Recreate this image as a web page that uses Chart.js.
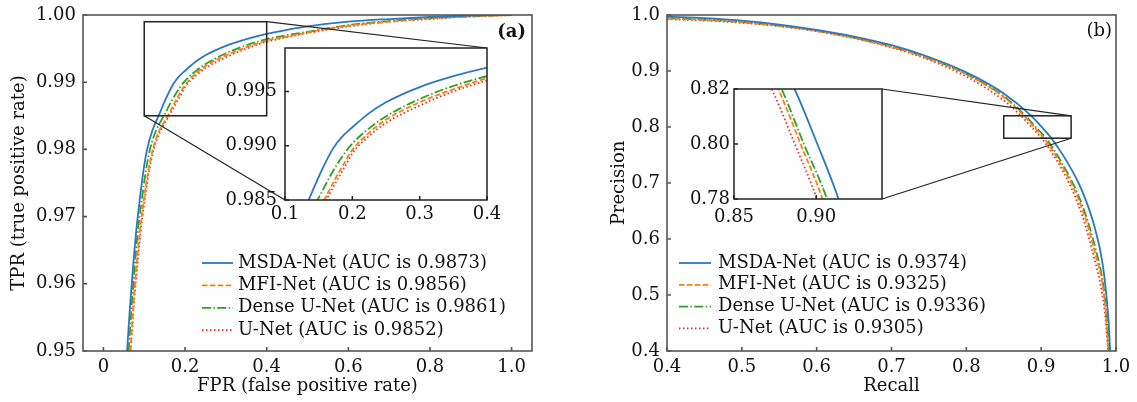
<!DOCTYPE html>
<html lang="en">
<head>
<meta charset="UTF-8">
<title>ROC and PR curves</title>
<script src="https://cdn.jsdelivr.net/npm/chart.js"></script>
<style>
  body { margin: 0; background: #fff; }
  #wrap { position: relative; width: 1137px; height: 402px; }
  canvas { position: absolute; }
</style>
</head>
<body>
<div id="wrap">
  <canvas id="rocMain" width="560" height="402" style="left:0;top:0"></canvas>
  <canvas id="rocZoom" width="300" height="200" style="left:200px;top:40px"></canvas>
  <canvas id="prMain" width="577" height="402" style="left:560px;top:0"></canvas>
  <canvas id="prZoom" width="260" height="160" style="left:640px;top:80px"></canvas>
</div>
<script>
// --- data ---
const seriesNames = ['MSDA-Net', 'MFI-Net', 'Dense U-Net', 'U-Net'];
const rocAuc = ['0.9873', '0.9856', '0.9861', '0.9852'];
const prAuc = ['0.9374', '0.9325', '0.9336', '0.9305'];

// ROC (a)
const fprMsda = [0.058, 0.065, 0.072, 0.080, 0.089, 0.098, 0.107, 0.120, 0.138, 0.155, 0.172, 0.186, 0.200, 0.225, 0.250, 0.300, 0.350, 0.400, 0.450, 0.500, 0.600, 0.700, 0.800, 0.900, 1.000];
const tprMsda = [0.9500, 0.9565, 0.9620, 0.9676, 0.9725, 0.9768, 0.9800, 0.9828, 0.9854, 0.9878, 0.9898, 0.9909, 0.9917, 0.9930, 0.9940, 0.9954, 0.9964, 0.9972, 0.9978, 0.9983, 0.9990, 0.9994, 0.9997, 0.9999, 1.0000];
const fprMfi = [0.066, 0.073, 0.080, 0.089, 0.099, 0.110, 0.121, 0.137, 0.158, 0.176, 0.190, 0.200, 0.225, 0.250, 0.300, 0.350, 0.400, 0.450, 0.500, 0.600, 0.700, 0.800, 0.900, 1.000];
const tprMfi = [0.9500, 0.9565, 0.9620, 0.9676, 0.9725, 0.9768, 0.9800, 0.9828, 0.9850, 0.9871, 0.9886, 0.9896, 0.9912, 0.9924, 0.9940, 0.9952, 0.9962, 0.9968, 0.9974, 0.9984, 0.9990, 0.9995, 0.9998, 1.0000];
const fprDense = [0.062, 0.069, 0.076, 0.084, 0.094, 0.104, 0.114, 0.129, 0.150, 0.168, 0.186, 0.200, 0.225, 0.250, 0.300, 0.350, 0.400, 0.450, 0.500, 0.600, 0.700, 0.800, 0.900, 1.000];
const tprDense = [0.9500, 0.9565, 0.9620, 0.9676, 0.9725, 0.9768, 0.9800, 0.9828, 0.9852, 0.9873, 0.9891, 0.9902, 0.9916, 0.9927, 0.9943, 0.9955, 0.9964, 0.9970, 0.9975, 0.9985, 0.9991, 0.9995, 0.9998, 1.0000];
const fprUnet = [0.067, 0.074, 0.082, 0.091, 0.101, 0.112, 0.123, 0.140, 0.161, 0.178, 0.191, 0.200, 0.225, 0.250, 0.300, 0.350, 0.400, 0.450, 0.500, 0.600, 0.700, 0.800, 0.900, 1.000];
const tprUnet = [0.9500, 0.9565, 0.9620, 0.9676, 0.9725, 0.9768, 0.9800, 0.9828, 0.9850, 0.9869, 0.9883, 0.9893, 0.9909, 0.9921, 0.9937, 0.9950, 0.9960, 0.9967, 0.9973, 0.9983, 0.9990, 0.9994, 0.9998, 1.0000];

// PR (b)
const recMsda = [0.40, 0.45, 0.50, 0.55, 0.60, 0.65, 0.70, 0.75, 0.80, 0.85, 0.8868, 0.90, 0.9136, 0.93, 0.95, 0.96, 0.97, 0.98, 0.985, 0.99, 0.9922];
const preMsda = [0.997, 0.9945, 0.990, 0.983, 0.9735, 0.9615, 0.946, 0.925, 0.8975, 0.860, 0.820, 0.801, 0.780, 0.748, 0.700, 0.668, 0.628, 0.572, 0.527, 0.455, 0.400];
const recMfi = [0.40, 0.45, 0.50, 0.55, 0.60, 0.65, 0.70, 0.75, 0.80, 0.85, 0.877, 0.8905, 0.9038, 0.923, 0.943, 0.953, 0.963, 0.973, 0.981, 0.986, 0.9898];
const preMfi = [0.9935, 0.991, 0.987, 0.9805, 0.9715, 0.959, 0.943, 0.922, 0.894, 0.8535, 0.820, 0.800, 0.780, 0.742, 0.692, 0.660, 0.620, 0.570, 0.527, 0.475, 0.400];
const recDense = [0.40, 0.45, 0.50, 0.55, 0.60, 0.65, 0.70, 0.75, 0.80, 0.85, 0.879, 0.8925, 0.9065, 0.925, 0.945, 0.955, 0.965, 0.975, 0.982, 0.987, 0.9905];
const preDense = [0.994, 0.9915, 0.9875, 0.981, 0.972, 0.9595, 0.9435, 0.9225, 0.8945, 0.855, 0.820, 0.800, 0.780, 0.742, 0.692, 0.660, 0.620, 0.570, 0.527, 0.470, 0.400];
const recUnet = [0.40, 0.45, 0.50, 0.55, 0.60, 0.65, 0.70, 0.75, 0.80, 0.85, 0.873, 0.887, 0.9004, 0.92, 0.94, 0.95, 0.96, 0.97, 0.978, 0.985, 0.9896];
const preUnet = [0.9925, 0.990, 0.986, 0.980, 0.971, 0.9585, 0.942, 0.920, 0.890, 0.8476, 0.820, 0.800, 0.780, 0.742, 0.692, 0.660, 0.620, 0.570, 0.527, 0.470, 0.400];

// ticks
const rocXTicks = [0, 0.2, 0.4, 0.6, 0.8, 1.0];
const rocXLabels = ['0', '0.2', '0.4', '0.6', '0.8', '1.0'];
const rocYTicks = [0.95, 0.96, 0.97, 0.98, 0.99, 1.00];
const rocYLabels = ['0.95', '0.96', '0.97', '0.98', '0.99', '1.00'];
const rocZoomXTicks = [0.1, 0.2, 0.3, 0.4];
const rocZoomXLabels = ['0.1', '0.2', '0.3', '0.4'];
const rocZoomYTicks = [0.985, 0.990, 0.995];
const rocZoomYLabels = ['0.985', '0.990', '0.995'];
const prTicks = [0.4, 0.5, 0.6, 0.7, 0.8, 0.9, 1.0];
const prLabels = ['0.4', '0.5', '0.6', '0.7', '0.8', '0.9', '1.0'];
const prZoomXTicks = [0.85, 0.90];
const prZoomXLabels = ['0.85', '0.90'];
const prZoomYTicks = [0.78, 0.80, 0.82];
const prZoomYLabels = ['0.78', '0.80', '0.82'];

// zoom windows [xmin, xmax, ymin, ymax]
const rocWindow = [0.1, 0.4, 0.985, 0.999];
const prWindow = [0.85, 0.94, 0.78, 0.82];

// --- styling ---
Chart.defaults.font.family = "'DejaVu Serif', serif";
Chart.defaults.font.size = 18;
Chart.defaults.color = '#111';

const colors = ['#2a78bd', '#ff7f0e', '#2ca02c', '#e0302a'];
const dashes = [[], [5.5, 2.4], [9, 2.4, 1.5, 2.4], [1.5, 2.5]];

function makeDatasets(xs, ys, aucs) {
  return xs.map((x, i) => ({
    label: seriesNames[i] + ' (AUC is ' + aucs[i] + ')',
    data: x.map((v, j) => ({ x: v, y: ys[i][j] })),
    borderColor: colors[i],
    borderDash: dashes[i],
    borderWidth: 1.8,
    pointRadius: 0,
    fill: false,
    cubicInterpolationMode: 'monotone'
  }));
}

function axis(ticks, labels, min, max, o) {
  return {
    type: 'linear', min: min, max: max,
    afterBuildTicks: s => { s.ticks = ticks.map(v => ({ value: v })); },
    ticks: { autoSkip: false, maxRotation: 0, padding: o.pad, callback: (v, i) => labels[i] },
    grid: { display: false, drawTicks: false },
    border: { display: false },
    title: o.title ? { display: true, text: o.title, padding: o.titlePad } : { display: false },
    afterFit: s => {
      if (o.w) s.width = o.w;
      if (o.h) s.height = o.h;
      s.paddingLeft = 0; s.paddingRight = 0; s.paddingTop = 0; s.paddingBottom = 0;
    }
  };
}

// frame, inward ticks, white inset background
const framePlugin = {
  id: 'frame',
  beforeDatasetsDraw(chart, args, o) {
    if (!o.bg) return;
    const { ctx, chartArea: a } = chart;
    ctx.save();
    ctx.fillStyle = '#fff';
    ctx.fillRect(a.left, a.top, a.right - a.left, a.bottom - a.top);
    ctx.restore();
  },
  afterDraw(chart, args, o) {
    const { ctx, chartArea: a, scales: { x, y } } = chart;
    ctx.save();
    ctx.strokeStyle = o.color;
    ctx.lineWidth = o.width;
    ctx.beginPath();
    x.ticks.forEach(t => { const px = x.getPixelForValue(t.value); ctx.moveTo(px, a.bottom); ctx.lineTo(px, a.bottom - 4); });
    y.ticks.forEach(t => { const py = y.getPixelForValue(t.value); ctx.moveTo(a.left, py); ctx.lineTo(a.left + 4, py); });
    ctx.stroke();
    ctx.strokeRect(a.left, a.top, a.right - a.left, a.bottom - a.top);
    ctx.restore();
  }
};

// zoom rectangle + connector lines to the inset
const zoomPlugin = {
  id: 'zoomBox',
  afterDraw(chart, args, o) {
    if (!o.inset) return;
    const { ctx, scales: { x, y } } = chart;
    const w = o.window;
    const r = { l: x.getPixelForValue(w[0]), r: x.getPixelForValue(w[1]), t: y.getPixelForValue(w[3]), b: y.getPixelForValue(w[2]) };
    const ia = o.inset.chartArea;
    const dx = o.inset.canvas.offsetLeft - chart.canvas.offsetLeft;
    const dy = o.inset.canvas.offsetTop - chart.canvas.offsetTop;
    const s = { l: ia.left + dx, r: ia.right + dx, t: ia.top + dy, b: ia.bottom + dy };
    ctx.save();
    ctx.strokeStyle = '#222';
    ctx.lineWidth = 1.5;
    ctx.strokeRect(r.l, r.t, r.r - r.l, r.b - r.t);
    ctx.lineWidth = 1.2;
    ctx.beginPath();
    o.links.forEach(k => {
      ctx.moveTo(r[k[0]], r[k[1]]);
      ctx.lineTo(s[k[0]], s[k[1]]);
    });
    ctx.stroke();
    ctx.restore();
  }
};

// legend inside the plot + panel tag
const legendPlugin = {
  id: 'inLegend',
  afterDraw(chart, args, o) {
    if (!o.show) return;
    const ctx = chart.ctx;
    ctx.save();
    ctx.font = "18px 'DejaVu Serif', serif";
    ctx.textBaseline = 'middle';
    ctx.fillStyle = '#111';
    chart.data.datasets.forEach((d, i) => {
      const yy = o.y + i * o.step;
      ctx.strokeStyle = d.borderColor;
      ctx.lineWidth = d.borderWidth;
      ctx.setLineDash(d.borderDash);
      ctx.beginPath();
      ctx.moveTo(o.x, yy);
      ctx.lineTo(o.x + o.len, yy);
      ctx.stroke();
      ctx.setLineDash([]);
      ctx.fillText(d.label, o.x + o.len + o.gap, yy);
    });
    ctx.font = (o.tagBold ? 'bold ' : '') + "18px 'DejaVu Serif', serif";
    ctx.textAlign = 'right';
    ctx.fillText(o.tag, o.tagX, o.tagY);
    ctx.restore();
  }
};

Chart.register(framePlugin, zoomPlugin, legendPlugin);

function baseOptions(padding, xAxis, yAxis, plug) {
  return {
    responsive: false,
    animation: false,
    events: [],
    layout: { padding: padding },
    scales: { x: xAxis, y: yAxis },
    plugins: Object.assign({ legend: { display: false }, tooltip: { enabled: false } }, plug)
  };
}

const rocSets = () => makeDatasets([fprMsda, fprMfi, fprDense, fprUnet], [tprMsda, tprMfi, tprDense, tprUnet], rocAuc);
const prSets = () => makeDatasets([recMsda, recMfi, recDense, recUnet], [preMsda, preMfi, preDense, preUnet], prAuc);

// inset (a)
const rocZoom = new Chart(document.getElementById('rocZoom'), {
  type: 'line',
  data: { datasets: rocSets() },
  options: baseOptions({ left: 0, top: 8, right: 13, bottom: 0 },
    axis(rocZoomXTicks, rocZoomXLabels, rocWindow[0], rocWindow[1], { pad: 4, h: 40 }),
    axis(rocZoomYTicks, rocZoomYLabels, rocWindow[2], rocWindow[3], { pad: 8, w: 85 }),
    { frame: { color: '#222', width: 1.5, bg: true } })
});

// main (a)
new Chart(document.getElementById('rocMain'), {
  type: 'line',
  data: { datasets: rocSets() },
  options: baseOptions({ left: 0, top: 15, right: 28, bottom: 0 },
    axis(rocXTicks, rocXLabels, -0.05, 1.05, { pad: 6, h: 51, title: 'FPR (false positive rate)', titlePad: { top: 0, bottom: 5 } }),
    axis(rocYTicks, rocYLabels, 0.95, 1.0, { pad: 7, w: 83, title: 'TPR (true positive rate)', titlePad: { top: 9, bottom: 0 } }),
    {
      frame: { color: '#555', width: 1.6 },
      zoomBox: { inset: rocZoom, window: rocWindow, links: [['r', 't'], ['l', 'b']] },
      inLegend: { show: true, x: 202, y: 263, step: 22.4, len: 31, gap: 5, tag: '(a)', tagBold: true, tagX: 526, tagY: 32 }
    })
});

// inset (b)
const prZoom = new Chart(document.getElementById('prZoom'), {
  type: 'line',
  data: { datasets: prSets() },
  options: baseOptions({ left: 0, top: 9, right: 18, bottom: 0 },
    axis(prZoomXTicks, prZoomXLabels, prWindow[0], prWindow[1], { pad: 8, h: 41 }),
    axis(prZoomYTicks, prZoomYLabels, prWindow[2], prWindow[3], { pad: 4, w: 94 }),
    { frame: { color: '#222', width: 1.5, bg: true } })
});

// main (b)
new Chart(document.getElementById('prMain'), {
  type: 'line',
  data: { datasets: prSets() },
  options: baseOptions({ left: 40, top: 15, right: 21, bottom: 0 },
    axis(prTicks, prLabels, 0.4, 1.0, { pad: 6, h: 51, title: 'Recall', titlePad: { top: 0, bottom: 5 } }),
    axis(prTicks, prLabels, 0.4, 1.0, { pad: 7, w: 67, title: 'Precision', titlePad: { top: 9, bottom: 0 } }),
    {
      frame: { color: '#555', width: 1.6 },
      zoomBox: { inset: prZoom, window: prWindow, links: [['r', 't'], ['r', 'b']] },
      inLegend: { show: true, x: 119, y: 263, step: 21.8, len: 32, gap: 7, tag: '(b)', tagBold: false, tagX: 552, tagY: 31 }
    })
});
</script>
</body>
</html>
